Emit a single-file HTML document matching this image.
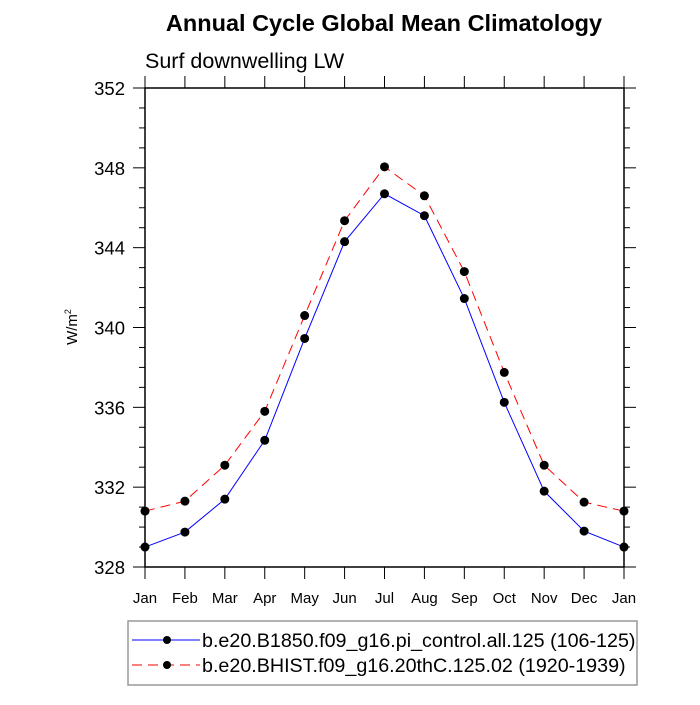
<!DOCTYPE html>
<html><head><meta charset="utf-8"><style>
body{margin:0;background:#fff;width:700px;height:700px;overflow:hidden}
svg text{font-family:"Liberation Sans",sans-serif}
</style></head><body>
<svg id="c" width="700" height="700" xmlns="http://www.w3.org/2000/svg">
<text x="384" y="31" font-size="23.5" font-weight="bold" text-anchor="middle">Annual Cycle Global Mean Climatology</text>
<text x="145" y="68" font-size="21.5">Surf downwelling LW</text>
<text transform="translate(77,327) rotate(-90)" font-size="15" text-anchor="middle">W/m<tspan font-size="9" dy="-6">2</tspan></text>
<g id="axes"></g><g id="series"></g>
<rect x="128" y="621" width="509" height="64" fill="none" stroke="#999" stroke-width="1.5"/>
<g>
<line x1="132" y1="640" x2="200" y2="640" stroke="#00f"/><circle cx="167" cy="640" r="4" fill="#000"/>
<text x="202" y="647" font-size="19.7">b.e20.B1850.f09_g16.pi_control.all.125 (106-125)</text></g>
<g>
<line x1="132" y1="665" x2="200" y2="665" stroke="#f00" stroke-dasharray="10,6"/><circle cx="167" cy="665" r="4" fill="#000"/>
<text x="202" y="672" font-size="19.7">b.e20.BHIST.f09_g16.20thC.125.02 (1920-1939)</text></g>
</svg>
<script>
const months=["Jan","Feb","Mar","Apr","May","Jun","Jul","Aug","Sep","Oct","Nov","Dec","Jan"];
const yTicks=[328,332,336,340,344,348,352];
const controlVals=[329.0,329.75,331.4,334.35,339.45,344.3,346.7,345.6,341.45,336.25,331.8,329.8,329.0];
const bhistVals=[330.8,331.3,333.1,335.8,340.6,345.35,348.05,346.6,342.8,337.75,333.1,331.25,330.8];
const L=145,R=624,T=88,B=567,ymin=328,ymax=352;
const NS="http://www.w3.org/2000/svg";
const X=i=>L+(R-L)*i/(months.length-1);
const Y=v=>B-(B-T)*(v-ymin)/(ymax-ymin);
function mk(t,a,p){const e=document.createElementNS(NS,t);for(const k in a)e.setAttribute(k,a[k]);p.appendChild(e);return e;}
const ax=document.getElementById('axes');
const fr=mk('rect',{x:L,y:T,width:R-L,height:B-T,fill:'none',stroke:'#000','stroke-width':1.5},ax);


for(let v=ymin;v<=ymax;v++){const maj=(v-ymin)%4===0,len=maj?12:6;
 mk('line',{x1:L-len,x2:L,y1:Y(v),y2:Y(v),stroke:'#000'},ax);
 mk('line',{x1:R,x2:R+len,y1:Y(v),y2:Y(v),stroke:'#000'},ax);}
yTicks.forEach(v=>{const t=mk('text',{x:L-20,y:Y(v)+7,'font-size':18.5,'text-anchor':'end'},ax);t.textContent=v;
 
 });
months.forEach((m,i)=>{mk('line',{x1:X(i),x2:X(i),y1:B,y2:B+12,stroke:'#000'},ax);
 mk('line',{x1:X(i),x2:X(i),y1:T-12,y2:T,stroke:'#000'},ax);
 const t=mk('text',{x:X(i),y:B+36,'font-size':15,'text-anchor':'middle'},ax);t.textContent=m;
 
 });
const sg=document.getElementById('series');
[[controlVals,'#00f',null,'control-series'],[bhistVals,'#f00','10,6','bhist-series']].forEach(([vals,col,dash,name])=>{
 const g=mk('g',{},sg);
 
 
 const a={points:vals.map((v,i)=>X(i)+','+Y(v)).join(' '),fill:'none',stroke:col,'stroke-width':1};
 if(dash)a['stroke-dasharray']=dash;
 mk('polyline',a,g);
 vals.forEach((v,i)=>{const c=mk('circle',{cx:X(i),cy:Y(v),r:4.5,fill:'#000'},g);
  
  });
});
</script>
</body></html>
